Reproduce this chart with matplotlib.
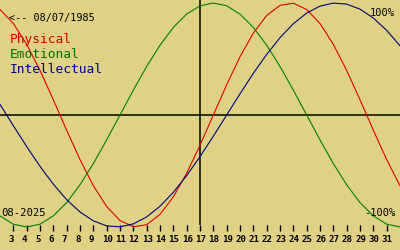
import matplotlib
matplotlib.use('Agg')
import matplotlib.pyplot as plt
import matplotlib.transforms as mtransforms

# day of month (-1 .. 1 = -100% .. 100%)
days = list(range(1, 34))
physical = [0.998, 0.942, 0.817, 0.631, 0.398, 0.136, -0.136, -0.398, -0.631, -0.817,
            -0.942, -0.998, -0.979, -0.888, -0.731, -0.520, -0.270, 0.0, 0.270, 0.520,
            0.731, 0.888, 0.979, 0.998, 0.942, 0.817, 0.631, 0.398, 0.136, -0.136,
            -0.398, -0.631, -0.817]
emotional = [-0.782, -0.901, -0.975, -1.0, -0.975, -0.901, -0.782, -0.623, -0.434, -0.222,
             0.0, 0.222, 0.434, 0.623, 0.782, 0.901, 0.975, 1.0, 0.975, 0.901,
             0.782, 0.623, 0.434, 0.222, 0.0, -0.222, -0.434, -0.623, -0.782, -0.901,
             -0.975, -1.0, -0.975]
intellectual = [0.282, 0.095, -0.095, -0.282, -0.458, -0.618, -0.756, -0.866, -0.945, -0.990,
                -0.999, -0.972, -0.910, -0.815, -0.690, -0.541, -0.372, -0.189, 0.0, 0.189,
                0.372, 0.541, 0.690, 0.815, 0.910, 0.972, 0.999, 0.990, 0.945, 0.866,
                0.756, 0.618, 0.458]
tick_days = list(range(3, 32))
today = 17
birth = "<-- 08/07/1985"
month = "08-2025"

BG = '#e0d285'
MONO = 'DejaVu Sans Mono'

fig = plt.figure(figsize=(4, 2.5), dpi=100, facecolor=BG)
ax = fig.add_axes([0, 0.1, 1, 0.9], facecolor=BG)
ax.set_xlim(2, 32)
ax.set_ylim(-110 / 112, 115 / 112)

ax.axhline(0, color='black', lw=1.1)
ax.axvline(today, color='black', lw=1.1)

ax.plot(days, physical, color='#e00000', lw=0.8, clip_on=False)
ax.plot(days, emotional, color='#008000', lw=0.8, clip_on=False)
ax.plot(days, intellectual, color='#000080', lw=0.8, clip_on=False)

for s in ax.spines.values():
    s.set_visible(False)
ax.set_yticks([])
ax.set_xticks(tick_days)
ax.set_xticklabels([str(d) for d in tick_days])
ax.tick_params(axis='x', direction='out', length=4.5, width=1.0, pad=2.6,
               labelsize=6.6, color='black')
shift = mtransforms.ScaledTranslation(-5 / 100, 0, fig.dpi_scale_trans)
for lbl in ax.get_xticklabels():
    lbl.set_fontweight('bold')
    lbl.set_family(MONO)
    lbl.set_ha('left')
    lbl.set_transform(lbl.get_transform() + shift)


def px(x, y):
    return x / 400, 1 - y / 250


fig.text(*px(9, 21), birth, family=MONO, fontsize=7.3, color='black', va='baseline')
fig.text(*px(10, 43), "Physical", family=MONO, fontsize=9.3, color='#d00000', va='baseline')
fig.text(*px(10, 58), "Emotional", family=MONO, fontsize=9.3, color='#007000', va='baseline')
fig.text(*px(10, 73), "Intellectual", family=MONO, fontsize=9.3, color='#000090', va='baseline')
fig.text(*px(395, 16), "100%", family=MONO, fontsize=7.5, color='black', va='baseline', ha='right')
fig.text(*px(395, 216), "-100%", family=MONO, fontsize=7.5, color='black', va='baseline', ha='right')
fig.text(*px(1, 216), month, family=MONO, fontsize=7.7, color='black', va='baseline')

fig.savefig('out.png', dpi=100, facecolor=BG)
